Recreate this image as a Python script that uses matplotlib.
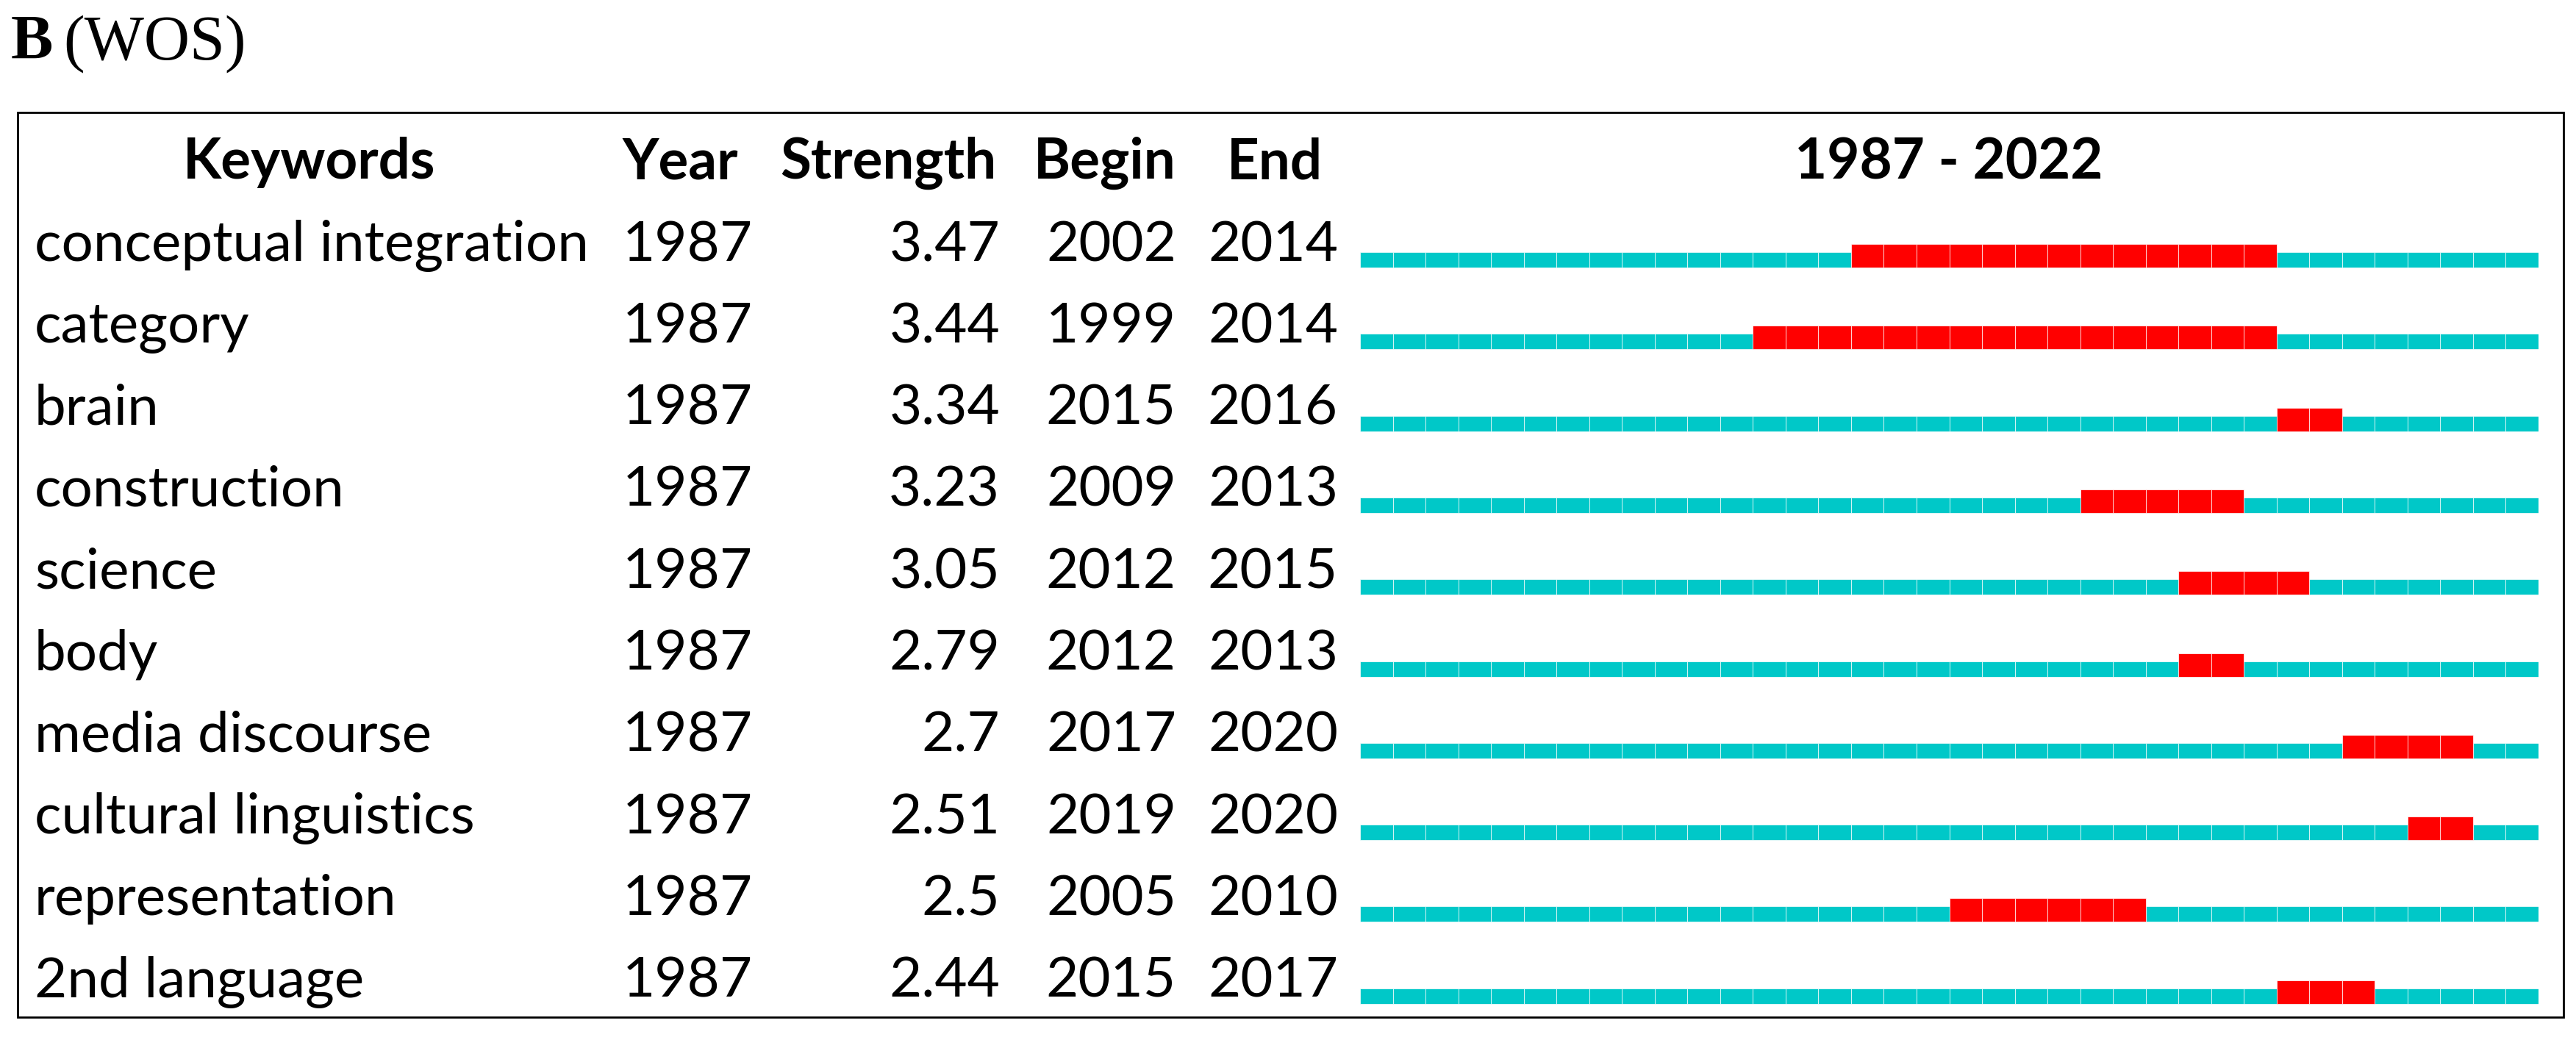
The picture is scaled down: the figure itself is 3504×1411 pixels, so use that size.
import numpy as np
import matplotlib
matplotlib.use("Agg")
import matplotlib.pyplot as plt
from matplotlib.patches import Rectangle

plt.rcParams['font.family'] = ['Lato', 'DejaVu Sans']

# burst table data
keywords = ["conceptual integration", "category", "brain", "construction", "science",
            "body", "media discourse", "cultural linguistics", "representation", "2nd language"]
year = [1987, 1987, 1987, 1987, 1987, 1987, 1987, 1987, 1987, 1987]
strength = [3.47, 3.44, 3.34, 3.23, 3.05, 2.79, 2.7, 2.51, 2.5, 2.44]
begin = [2002, 1999, 2015, 2009, 2012, 2012, 2017, 2019, 2005, 2015]
end = [2014, 2014, 2016, 2013, 2015, 2013, 2020, 2020, 2010, 2017]
first_year, last_year = 1987, 2022

cyan = "#00C8C8"
red = "#FF0000"

W, H = 3504, 1411
fig = plt.figure(figsize=(W / 100, H / 100), dpi=100)

# text layer in pixel coords
ax = fig.add_axes([0, 0, 1, 1])
ax.set_xlim(0, W)
ax.set_ylim(H, 0)
ax.axis('off')

# layout
row_base = 364 + 111.3 * np.arange(len(keywords))   # bottom of bars per row
text_base = row_base - 9
head_base = 243
fs = 55

# title
ax.text(15, 80, "B", fontsize=62, fontweight='bold', family='Liberation Serif', va='baseline')
ax.text(86, 80, "(WOS)", fontsize=62, family='Liberation Serif', va='baseline')

# frame
ax.add_patch(Rectangle((24, 153), 3487 - 24, 1384 - 153, fill=False, lw=2.0, ec='black'))

# headers
ax.text(421, head_base, "Keywords", fontsize=fs, fontweight='bold', ha='center', va='baseline')
ax.text(847, head_base, "Year", fontsize=fs, fontweight='bold', ha='left', va='baseline')
ax.text(1208, head_base, "Strength", fontsize=fs, fontweight='bold', ha='center', va='baseline')
ax.text(1503, head_base, "Begin", fontsize=fs, fontweight='bold', ha='center', va='baseline')
ax.text(1734, head_base, "End", fontsize=fs, fontweight='bold', ha='center', va='baseline')
ax.text(2651, head_base, f"{first_year} - {last_year}", fontsize=fs, fontweight='bold',
        ha='center', va='baseline')

for i, kw in enumerate(keywords):
    yb = text_base[i]
    ax.text(47, yb, kw, fontsize=fs, ha='left', va='baseline')
    ax.text(847, yb, str(year[i]), fontsize=fs, ha='left', va='baseline')
    ax.text(1360, yb, f"{strength[i]:g}", fontsize=fs, ha='right', va='baseline')
    ax.text(1600, yb, str(begin[i]), fontsize=fs, ha='right', va='baseline')
    ax.text(1820, yb, str(end[i]), fontsize=fs, ha='right', va='baseline')

# burst bars, x in years
bx = fig.add_axes([1850 / W, 0, 1603 / W, 1])
bx.set_xlim(first_year, last_year + 1)
bx.set_ylim(H, 0)
bx.axis('off')
bx.patch.set_alpha(0)

years = np.arange(first_year, last_year + 1)
for i in range(len(keywords)):
    bx.bar(years, 21, bottom=row_base[i] - 21, width=1, align='edge',
           color=cyan, edgecolor='white', linewidth=0.5)
    burst = np.arange(begin[i], end[i] + 1)
    bx.bar(burst, 32, bottom=row_base[i] - 32, width=1, align='edge',
           color=red, edgecolor='white', linewidth=0.5)

fig.savefig("out.png", dpi=100)
